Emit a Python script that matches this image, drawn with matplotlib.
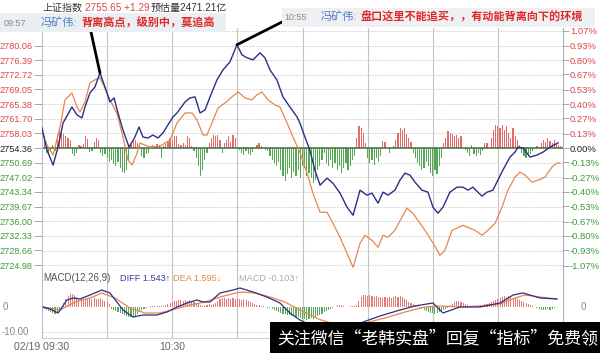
import matplotlib
matplotlib.use('Agg')
import matplotlib.pyplot as plt
import matplotlib.transforms as mtrans
from matplotlib.patches import Rectangle
import numpy as np

plt.rcParams['font.family'] = ['Liberation Sans', 'Noto Sans CJK SC', 'DejaVu Sans']

# ---------------- data ----------------
PREV_CLOSE = 2754.36
LAST_PRICE = 2755.65
EST_VOLUME = '2471.21亿'
INDEX_NAME = '上证指数'

# weighted index (blue), minutes since 09:30
index_t = [0, 2.3, 5.1, 7.4, 9.7, 13.8, 16.1, 18.4, 19.8, 22.1, 24.4, 26.7, 29.0, 31.3, 33.2,
           35.0, 37.3, 40.1, 42.8, 44.7, 46.5, 48.8, 51.1, 53.4, 55.7, 58.0, 60.3, 62.2, 65.9, 68.2,
           70.5, 72.8, 75.1, 77.4, 80.6, 83.4, 86.6, 89.8, 92.1, 94.4, 97.2, 100.4, 102.7, 105.0, 108.2,
           111.0, 114.2, 117.5, 118.8, 121.1, 123.4, 125.7, 128.1, 131.3, 134.0, 137.3, 140.5, 143.3, 146.5, 149.7,
           152.0, 154.8, 157.1, 159.4, 162.6, 164.9, 167.2, 169.5, 171.8, 175.0, 177.8, 180.1, 182.4, 184.7, 187.9,
           191.2, 193.9, 196.2, 198.5, 200.8, 202.7, 205.0, 207.7, 210.0, 212.3, 215.6, 217.9, 219.3, 221.6, 224.8,
           228.0, 230.8, 234.0, 237.7]
index_v = [2759.39, 2753.86, 2750.08, 2754.61, 2760.65, 2764.67, 2762.66, 2761.91, 2764.67, 2768.19,
           2769.70, 2773.22, 2769.70, 2765.93, 2766.94, 2763.16, 2758.89, 2754.61, 2757.13, 2759.64,
           2757.13, 2756.88, 2757.63, 2756.88, 2758.13, 2760.14, 2762.16, 2763.16, 2765.93, 2766.94,
           2767.19, 2763.16, 2763.92, 2767.19, 2771.46, 2773.98, 2776.00, 2780.27, 2777.75, 2777.00,
           2776.49, 2778.25, 2777.00, 2773.98, 2771.46, 2767.19, 2764.67, 2762.16, 2760.65, 2757.13,
           2753.86, 2748.83, 2745.05, 2746.81, 2745.56, 2743.04, 2739.52, 2737.51, 2743.80, 2742.54,
           2743.04, 2740.53, 2743.29, 2742.54, 2743.80, 2746.31, 2748.07, 2747.57, 2745.81, 2743.80,
           2743.29, 2739.52, 2738.01, 2739.52, 2743.29, 2744.55, 2744.55, 2743.80, 2744.55, 2743.29,
           2742.29, 2743.29, 2743.80, 2746.31, 2748.83, 2752.10, 2753.35, 2754.61, 2754.36, 2752.10,
           2752.60, 2753.35, 2754.61, 2755.65]

# unweighted index (orange)
avg_t = [0, 2.3, 5.1, 8.3, 10.6, 13.8, 16.1, 17.5, 19.8, 22.1, 24.4, 26.7, 29.0, 31.3, 34.5,
         37.3, 39.6, 41.5, 43.8, 45.1, 49.7, 54.4, 56.7, 59.0, 62.2, 65.9, 69.1, 71.4, 74.2, 76.0,
         78.3, 81.1, 84.3, 87.5, 90.3, 93.5, 96.7, 99.0, 101.3, 104.1, 107.3, 109.6, 112.9, 115.6, 118.8,
         122.1, 124.8, 128.1, 131.3, 134.0, 137.3, 140.5, 143.3, 146.5, 148.8, 152.0, 154.8, 157.1, 159.4, 162.6,
         165.8, 168.1, 170.9, 174.1, 177.3, 181.0, 183.3, 185.6, 188.9, 191.2, 193.9, 197.1, 199.4, 202.7, 205.4,
         208.7, 211.9, 214.6, 217.9, 220.2, 222.5, 225.7, 228.5, 231.7, 234.9, 237.2, 238.6]
avg_v = [2758.13, 2755.11, 2752.60, 2759.64, 2766.43, 2768.19, 2764.67, 2763.41, 2765.93, 2770.71,
         2771.46, 2771.97, 2769.45, 2766.43, 2763.16, 2757.13, 2751.34, 2750.08, 2753.10, 2755.62,
         2754.61, 2754.86, 2755.62, 2756.37, 2760.65, 2763.16, 2763.16, 2761.40, 2757.63, 2757.63,
         2760.65, 2764.42, 2765.68, 2767.19, 2768.44, 2766.94, 2766.43, 2767.69, 2768.44, 2766.43,
         2765.17, 2764.67, 2760.65, 2757.13, 2753.35, 2748.07, 2743.04, 2738.26, 2738.26, 2735.50,
         2731.98, 2727.95, 2724.43, 2730.47, 2732.48, 2731.22, 2729.46, 2732.48, 2731.98, 2733.74,
         2737.01, 2739.27, 2738.01, 2735.50, 2732.98, 2729.71, 2727.45, 2728.71, 2733.74, 2734.24,
         2734.99, 2734.24, 2733.74, 2732.48, 2733.74, 2735.50, 2739.52, 2743.80, 2747.07, 2748.32,
         2747.57, 2745.81, 2746.31, 2747.07, 2749.58, 2750.59, 2750.59]

# red/green strength bars, one per minute
strength = [15, 12, -5, -7, -4, 3, -3, 14, 18, 16, 14, 12, 10, 8, -6, -8, -5, 3, 2, 4,
            12, 9, -4, -3, 6, 10, 8, -5, -8, -6, -10, -14, -12, -16, -18, -14, -20, -24, -25, -22,
            -12, 4, 7, 8, 5, 3, -8, -10, -6, -5, 2, 3, 2, 4, 3, -10, 2, 4, 6, 10,
            8, 12, 12, 4, 3, 5, 3, 12, 10, 2, -3, -10, -18, -28, -22, -12, -5, 5, 10, 13,
            12, 13, 8, -5, 5, 8, 12, 6, 13, 10, 0, -2, -5, -7, -3, -6, -7, -4, 0, 3,
            5, 2, 0, -2, -3, -8, -12, -15, -18, -14, -22, -28, -33, -26, -20, -30, -24, -28, -22, -30,
            -18, -20, -28, -25, -30, -35, -32, -22, -18, -12, -5, -15, -18, -12, -20, -15, -22, -18, -25, -20,
            -15, -22, -18, -12, -8, 10, 22, 20, 15, 5, -10, -15, -12, -17, -10, -14, -8, 7, 6, 0,
            -5, 0, 2, 8, 15, 20, 18, 20, 14, 10, 6, -5, -10, -15, -18, -22, -20, -14, -18, -25,
            -28, -22, -26, -18, -10, 5, 10, 17, 15, 14, 12, 13, 10, 12, 0, -2, -5, -8, 3, -6,
            -8, -5, -7, -3, 5, 5, 0, 10, 18, 23, 22, 20, 23, 18, 22, 15, 10, 20, 12, 8,
            3, -5, -8, -10, -8, -6, -3, 0, 2, 0, 5, 8, 6, 10, 7, 5, 8, 4, 3, 2]

# MACD(12,26,9)
diff_t = [0.5, 3.7, 7.4, 11.5, 14.3, 17.5, 22.1, 27.6, 31.3, 37.3, 41.9, 46.5, 53.0, 57.6, 62.2,
          66.8, 71.4, 74.2, 77.4, 82.0, 88.0, 91.2, 97.2, 103.6, 109.6, 114.2, 118.8, 128.0, 137.0, 145.0,
          147.9, 155.7, 164.9, 171.8, 180.1, 184.7, 192.5, 201.7, 211.0, 217.0, 221.6, 229.4, 237.2]
diff_v = [0, -0.8, -2.4, 2.8, 3.6, 3.2, 4.8, 6.8, 5.6, -1.2, -4.0, -3.2, -3.2, -2.0, 0,
          1.6, 2.8, 2.0, 2.0, 5.6, 6.8, 7.6, 6.0, 4.0, 1.6, -2.4, -5.2, -9.0, -10.0, -8.0,
          -6.0, -3.6, -1.2, 0.4, 1.6, -2.4, 0, 0, 1.6, 4.8, 5.6, 3.6, 3.2]
dea_t = [0.5, 8.3, 15.2, 22.1, 27.6, 33.6, 40.5, 47.4, 54.4, 61.3, 68.2, 75.1, 82.0, 91.2, 98.1,
         105.0, 111.9, 118.8, 128.0, 137.0, 146.0, 148.8, 158.0, 167.2, 176.4, 183.3, 192.5, 201.7, 211.0, 217.9,
         222.5, 229.4, 237.2]
dea_v = [0, -1.2, 2.0, 3.6, 5.6, 3.6, -0.4, -2.4, -2.4, -0.8, 0.8, 2.0, 4.0, 6.0, 5.6,
         4.0, 2.0, -1.2, -5.0, -7.5, -7.5, -6.4, -4.4, -2.0, 0, 0.4, 0, 0.4, 1.2, 3.6,
         4.8, 4.0, 3.2]
macd_hist = [-0.4, -0.8, -1.2, -1.6, -2.0, -2.4, -2.8, -2.4, -2.0, -1.2,
             1.6, 3.2, 4.4, 5.2, 5.2, 4.8, 4.0, 3.2, 3.6, 3.2, 3.6, 3.2, 3.6, 3.2, 3.6, 3.2, 3.2, 3.6, 2.8, 2.4, 2.0, 1.2,
             -0.8, -1.2, -1.6, -2.0, -2.4, -2.8, -3.2, -3.6, -4.0, -4.0, -4.0, -3.6, -2.8, -2.0,
             -1.2, -0.8, -0.4, 0, 0.4, 0.4, 0.4, 0.4, 0.4, 0.4, 0.4, 0.8,
             1.2, 1.6, 2.0, 2.4, 2.4, 2.8, 2.8, 2.4, 2.8, 2.4, 2.8, 2.4, 2.0, 1.6, 1.2, 0.8,
             0.4, 0.4, 0.8, 1.2, 0.8, 1.2,
             1.6, 2.4, 3.2, 3.6, 3.6, 3.2, 3.6, 3.2, 3.6, 3.2, 3.6, 3.2, 2.8, 3.2, 2.8, 2.4, 2.0, 1.6,
             1.2, 0.8, 0.8, 0.4, 0.4, 0, -0.4, -0.4,
             -0.8, -1.2, -1.6, -2.0, -2.4, -2.8, -2.8, -3.2, -3.2, -3.6, -3.6, -4.0, -4.0, -4.4,
             -4.8, -4.8, -5.2, -4.8, -4.4, -4.8, -4.0, -3.6, -3.2, -2.8, -2.0, -1.6, -1.2, -0.8,
             -0.4, 0, 0.8, 0.8, 0.8, 0.4,
             0, 0, 0.4, 0.4, 0.4, 0.8,
             2.4, 4.0, 4.8, 4.8, 4.4, 4.8, 4.4, 4.0, 4.4, 4.0, 4.0, 3.6, 4.0, 3.6, 4.0, 3.6, 4.0, 4.4, 4.0, 4.4,
             4.0, 3.2, 2.8, 2.0, 1.6, 1.2, 0.8,
             0.4, -0.4, -0.8, -1.2,
             -1.6, -2.0, -2.4, -2.4, -2.8, -2.4, -2.0, -1.6, -1.2, -0.8, -0.4,
             0.8, 1.2, 2.0, 2.4, 2.4, 2.0, 1.6, 1.2, 0.8, 0.4,
             0.4, 0.4, 0, 0.4, 0.8, 0.8, 1.2, 1.2, 1.6, 2.0, 2.4,
             2.8, 3.2, 3.6, 4.0, 4.4, 4.0, 4.4, 4.0, 3.6, 4.0, 3.2, 2.8, 2.4, 2.0, 1.6, 1.2, 0.8,
             0.4, 0,
             -0.4, -0.8, -1.2, -1.2, -1.2, -0.8, -1.2, -0.8, -0.4, 0,
             0, 0]
MACD_LABEL = 'MACD(12,26,9)'
DIFF_LABEL = 'DIFF 1.543↑'
DEA_LABEL = 'DEA 1.595↓'
MACD_VAL_LABEL = 'MACD -0.103↑'

left_ticks = [2724.98, 2728.66, 2732.33, 2736.00, 2739.67, 2743.34, 2747.02, 2750.69,
              2754.36, 2758.03, 2761.70, 2765.38, 2769.05, 2772.72, 2776.39, 2780.06]
right_ticks = [-1.07, -0.93, -0.80, -0.67, -0.53, -0.40, -0.27, -0.13, 0.00,
               0.13, 0.27, 0.40, 0.53, 0.67, 0.80, 0.93, 1.07]
time_ticks = [0, 60]
time_labels = ['02/19 09:30', '10:30']

note1_time, note1_who, note1_text = '09:57', '冯矿伟:', '背离高点，级别中，莫追高'
note2_time, note2_who, note2_text = '10:55', '冯矿伟:', '盘口这里不能追买，，有动能背离向下的环境'
banner = '关注微信“老韩实盘”回复“指标”免费领'

# ---------------- layout helpers ----------------
W, H = 600, 353
fig = plt.figure(figsize=(W / 100, H / 100), dpi=100)
fig.patch.set_facecolor('white')


def rect(x0, y0, x1, y1):
    return [x0 / W, 1 - y1 / H, (x1 - x0) / W, (y1 - y0) / H]


def fx(x):
    return x / W


def fy(y):
    return 1 - y / H


RED = '#d94848'
GREEN = '#3d9a3d'
GRID = '#c9c9c9'
STEP = 3.6725          # price step between gridlines
LO, HI = 8.33, 8.2     # gridline steps below / above previous close
BAR_UNITS = 14.6       # strength units per gridline step

# ---------------- main panel ----------------
axb = fig.add_axes(rect(42, 28, 563, 270))
ax = fig.add_axes(rect(42, 28, 563, 270), sharex=axb)
ax.patch.set_visible(False)

axb.set_xlim(0, 240)
axb.set_ylim(-LO * BAR_UNITS, HI * BAR_UNITS)
ax.set_ylim(PREV_CLOSE - LO * STEP, PREV_CLOSE + HI * STEP)

# gridlines
for k in range(-8, 9):
    if k != 0:
        axb.axhline(k * BAR_UNITS, color=GRID, lw=0.6, ls=(0, (2, 1.5)), zorder=0)
for t in np.arange(30, 240, 30):
    axb.axvline(t, color='#c4c4c4', lw=0.8, zorder=0)

st = np.array(strength, dtype=float)
mins = np.arange(len(st))
axb.bar(mins[st > 0], st[st > 0], width=0.55, color='#e56a6a', zorder=2)
axb.bar(mins[st < 0], st[st < 0], width=0.55, color='#55a855', zorder=2)
axb.axhline(0, color='#3f6a3f', lw=1.1, zorder=3)
axb.tick_params(axis='both', which='both', bottom=False, left=False,
                labelbottom=False, labelleft=False)
for s in axb.spines.values():
    s.set_visible(False)

ax.plot(avg_t, avg_v, color='#e8864e', lw=0.9, zorder=4)
ax.plot(index_t, index_v, color='#2c2f86', lw=1.0, zorder=5)

ax.set_yticks(left_ticks)
ax.set_yticklabels([f'{v:.2f}' for v in left_ticks], fontsize=6.6)
for lbl, v in zip(ax.get_yticklabels(), left_ticks):
    lbl.set_color('#222222' if abs(v - PREV_CLOSE) < 0.01 else (RED if v > PREV_CLOSE else GREEN))
ax.tick_params(axis='y', length=6, pad=1, color='#9a9a9a', width=0.6)
ax.tick_params(axis='x', bottom=False, labelbottom=False)
for name, s in ax.spines.items():
    s.set_color('#b0b0b0')
    s.set_linewidth(0.8)
ax.spines['top'].set_visible(False)
ax.spines['left'].set_color('#a9c3dd')

axr = ax.twinx()
lo_p, hi_p = ax.get_ylim()
axr.set_ylim((lo_p / PREV_CLOSE - 1) * 100, (hi_p / PREV_CLOSE - 1) * 100)
axr.set_yticks(right_ticks)
axr.set_yticklabels([f'{v:.2f}%' for v in right_ticks], fontsize=6.8)
for lbl, v in zip(axr.get_yticklabels(), right_ticks):
    lbl.set_color('#222222' if v == 0 else (RED if v > 0 else GREEN))
axr.tick_params(axis='y', length=4, pad=1, color='#9a9a9a', width=0.6)
axr.tick_params(axis='x', bottom=False, labelbottom=False)
for s in axr.spines.values():
    s.set_visible(False)

# annotations pointing at the two highs
i1 = int(np.argmax(index_v[:20]))
i2 = int(np.argmax(index_v))
ax.annotate('', xy=(index_t[i1], index_v[i1]), xytext=(91, H - 32), textcoords='figure pixels',
            arrowprops=dict(arrowstyle='-', color='black', lw=2.0, shrinkA=0, shrinkB=0), zorder=8)
ax.annotate('', xy=(index_t[i2], index_v[i2]), xytext=(284, H - 21), textcoords='figure pixels',
            arrowprops=dict(arrowstyle='-', color='black', lw=2.0, shrinkA=0, shrinkB=0), zorder=8)

# ---------------- MACD panel ----------------
axm = fig.add_axes(rect(42, 270, 563, 338), sharex=axb)
axm.set_ylim(-12.4, 14.8)
for t in np.arange(30, 240, 30):
    axm.axvline(t, color='#c4c4c4', lw=0.8, zorder=0)
axm.axhline(-10, color=GRID, lw=0.6, ls=(0, (2, 1.5)), zorder=0)
mh = np.array(macd_hist)
mm = np.arange(len(mh))
axm.bar(mm[mh > 0], mh[mh > 0], width=0.5, color='#e57878', zorder=2)
axm.bar(mm[mh < 0], mh[mh < 0], width=0.5, color='#5aaa5a', zorder=2)
axm.bar(mm[mh == 0], 0.3, bottom=-0.15, width=0.5, color='#b0b0b0', zorder=2)
axm.plot(dea_t, dea_v, color='#e8864e', lw=0.9, zorder=3)
axm.plot(diff_t, diff_v, color='#2c2f86', lw=0.9, zorder=4)
axm.set_yticks([])
axm.set_xticks(time_ticks)
axm.set_xticklabels(time_labels, fontsize=7.5, color='#666666')
axm.tick_params(axis='x', length=0, pad=3)
for name, s in axm.spines.items():
    s.set_color('#b0b0b0')
    s.set_linewidth(0.8)
axm.spines['top'].set_visible(False)
axm.spines['left'].set_color('#a9c3dd')
axm.spines['bottom'].set_color('#d0d0d0')

bt = mtrans.blended_transform_factory(fig.transFigure, axm.transData)
axm.text(fx(3), 0, '0', transform=bt, fontsize=7, color='#888888', va='center', ha='left')
axm.text(fx(2), -10, '-10.00', transform=bt, fontsize=7, color='#888888', va='center', ha='left')
axm.text(fx(583), 0, '0', transform=bt, fontsize=7, color='#888888', va='center', ha='center')

fig.text(fx(43), fy(278), MACD_LABEL, fontsize=7, color='#555555', va='center')
fig.text(fx(120), fy(278), DIFF_LABEL, fontsize=6.6, color='#3a3aa8', va='center')
fig.text(fx(173), fy(278), DEA_LABEL, fontsize=6.6, color='#e0874c', va='center')
fig.text(fx(239), fy(278), MACD_VAL_LABEL, fontsize=6.6, color='#aaaaaa', va='center')

# ---------------- header & notes ----------------
fig.text(fx(42), fy(8), INDEX_NAME, fontsize=7.2, color='#333333', va='center')
fig.text(fx(85), fy(8), f'{LAST_PRICE:.2f} {LAST_PRICE - PREV_CLOSE:+.2f}', fontsize=7.2,
         color=RED, va='center')
fig.text(fx(151), fy(8), '预估量' + EST_VOLUME, fontsize=7.2, color='#333333', va='center')

fig.patches.append(Rectangle((0, fy(32)), fx(226), fy(13) - fy(32), transform=fig.transFigure,
                             facecolor='#eaeff4', edgecolor='none', zorder=2))
fig.text(fx(4), fy(23), note1_time, fontsize=6.5, color='#8a8a8a', va='center', zorder=6)
fig.text(fx(41), fy(23), note1_who, fontsize=8, color='#4f80c4', va='center', zorder=6)
fig.text(fx(81), fy(23), note1_text, fontsize=8, color='#e02828', va='center', weight='bold', zorder=6)

fig.patches.append(Rectangle((fx(282), fy(27)), fx(313), fy(8) - fy(27), transform=fig.transFigure,
                             facecolor='#eef0f3', edgecolor='none', zorder=2))
fig.text(fx(284), fy(17), note2_time, fontsize=6.5, color='#8a8a8a', va='center', zorder=6)
fig.text(fx(321), fy(17), note2_who, fontsize=8, color='#4f80c4', va='center', zorder=6)
fig.text(fx(361), fy(17), note2_text, fontsize=8, color='#e02828', va='center', weight='bold', zorder=6)

# ---------------- banner ----------------
fig.patches.append(Rectangle((fx(270), 0), fx(330), fy(322), transform=fig.transFigure,
                             facecolor='black', edgecolor='none', zorder=9))
fig.text(fx(277), fy(338), banner, fontsize=12.2, color='white', va='center', zorder=10,
         family=['Noto Sans CJK SC', 'DejaVu Sans'])

fig.savefig('out.png', dpi=100)
